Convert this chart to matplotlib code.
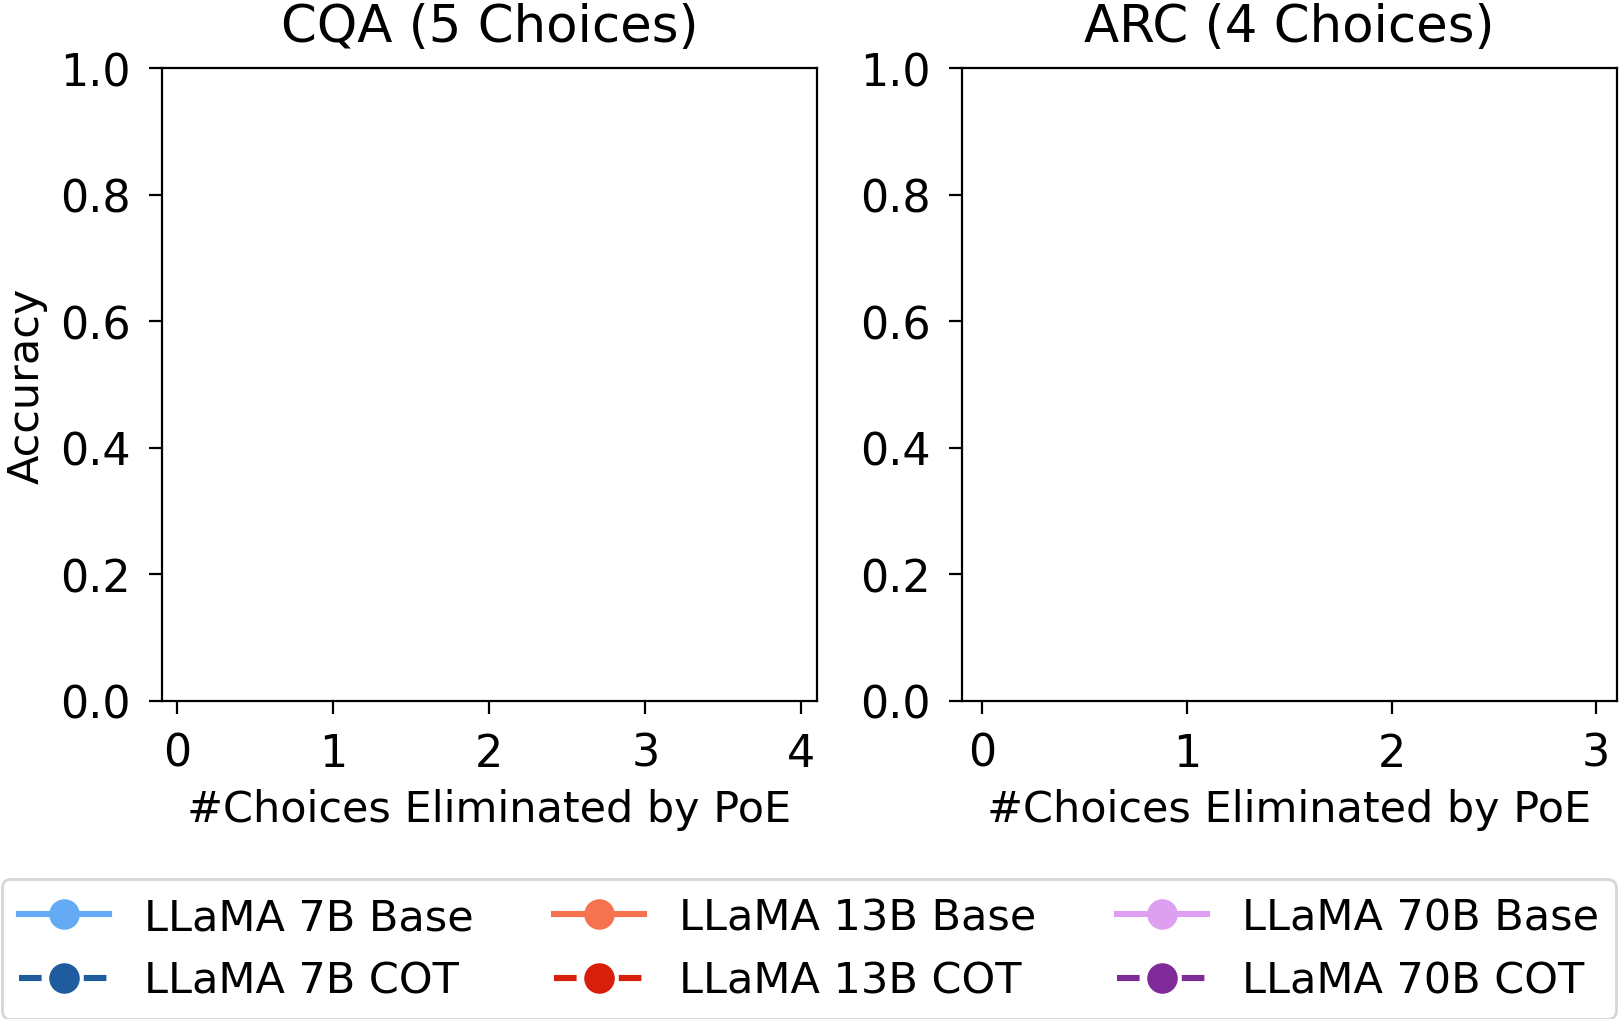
import matplotlib
matplotlib.use("Agg")
from matplotlib import pyplot as plt
import numpy as np

# datasets: title, number of answer choices
datasets = ["CQA (5 Choices)", "ARC (4 Choices)"]
n_choices = [5, 4]

# series labels and styles
models = ["LLaMA 7B", "LLaMA 13B", "LLaMA 70B"]
base_colors = ["#64aaf5", "#f5734f", "#dd9ff0"]
cot_colors = ["#1f5c9f", "#d81f0a", "#7f2b9a"]

# accuracy per number of eliminated choices (no points recorded)
cqa_base = {"LLaMA 7B": [], "LLaMA 13B": [], "LLaMA 70B": []}
cqa_cot = {"LLaMA 7B": [], "LLaMA 13B": [], "LLaMA 70B": []}
arc_base = {"LLaMA 7B": [], "LLaMA 13B": [], "LLaMA 70B": []}
arc_cot = {"LLaMA 7B": [], "LLaMA 13B": [], "LLaMA 70B": []}

plt.rcParams['font.family'] = ['DejaVu Sans']
plt.rcParams['font.size'] = 16

fig = plt.figure(figsize=(8.095, 5.1), dpi=200)
ax1 = fig.add_axes([0.100, 0.312, 0.4046, 0.620])
ax2 = fig.add_axes([0.594, 0.312, 0.4046, 0.620])

handles = []
for ax, name, n, base, cot in [(ax1, datasets[0], n_choices[0], cqa_base, cqa_cot),
                               (ax2, datasets[1], n_choices[1], arc_base, arc_cot)]:
    handles = []
    for m, cb, cc in zip(models, base_colors, cot_colors):
        yb = base[m]
        yc = cot[m]
        h1, = ax.plot(np.arange(len(yb)), yb, color=cb, marker='o', markersize=10,
                      linewidth=2.2, linestyle='-', label=m + " Base")
        h2, = ax.plot(np.arange(len(yc)), yc, color=cc, marker='o', markersize=10,
                      linewidth=2.2, linestyle='--', label=m + " COT")
        handles += [h1, h2]
    ax.set_title(name, fontsize=18.5, pad=10)
    ax.set_xlim(-0.1, n - 1 + 0.1)
    ax.set_ylim(0, 1.0)
    ax.set_xticks(range(n))
    ax.set_yticks(np.arange(0, 1.01, 0.2))
    ax.tick_params(length=4.7, pad=6.5)
    ax.set_xlabel("#Choices Eliminated by PoE", fontsize=15.5, labelpad=4.9)

ax1.set_ylabel("Accuracy", fontsize=15.5, labelpad=4.3)

fig.legend(handles=handles, loc='lower left', ncol=3, mode='expand',
           bbox_to_anchor=(0.001, 0.0, 0.997, 0.137), fontsize=15.5,
           handlelength=2.1, borderaxespad=0.0, columnspacing=1.0)

fig.savefig("out.png", dpi=200)
